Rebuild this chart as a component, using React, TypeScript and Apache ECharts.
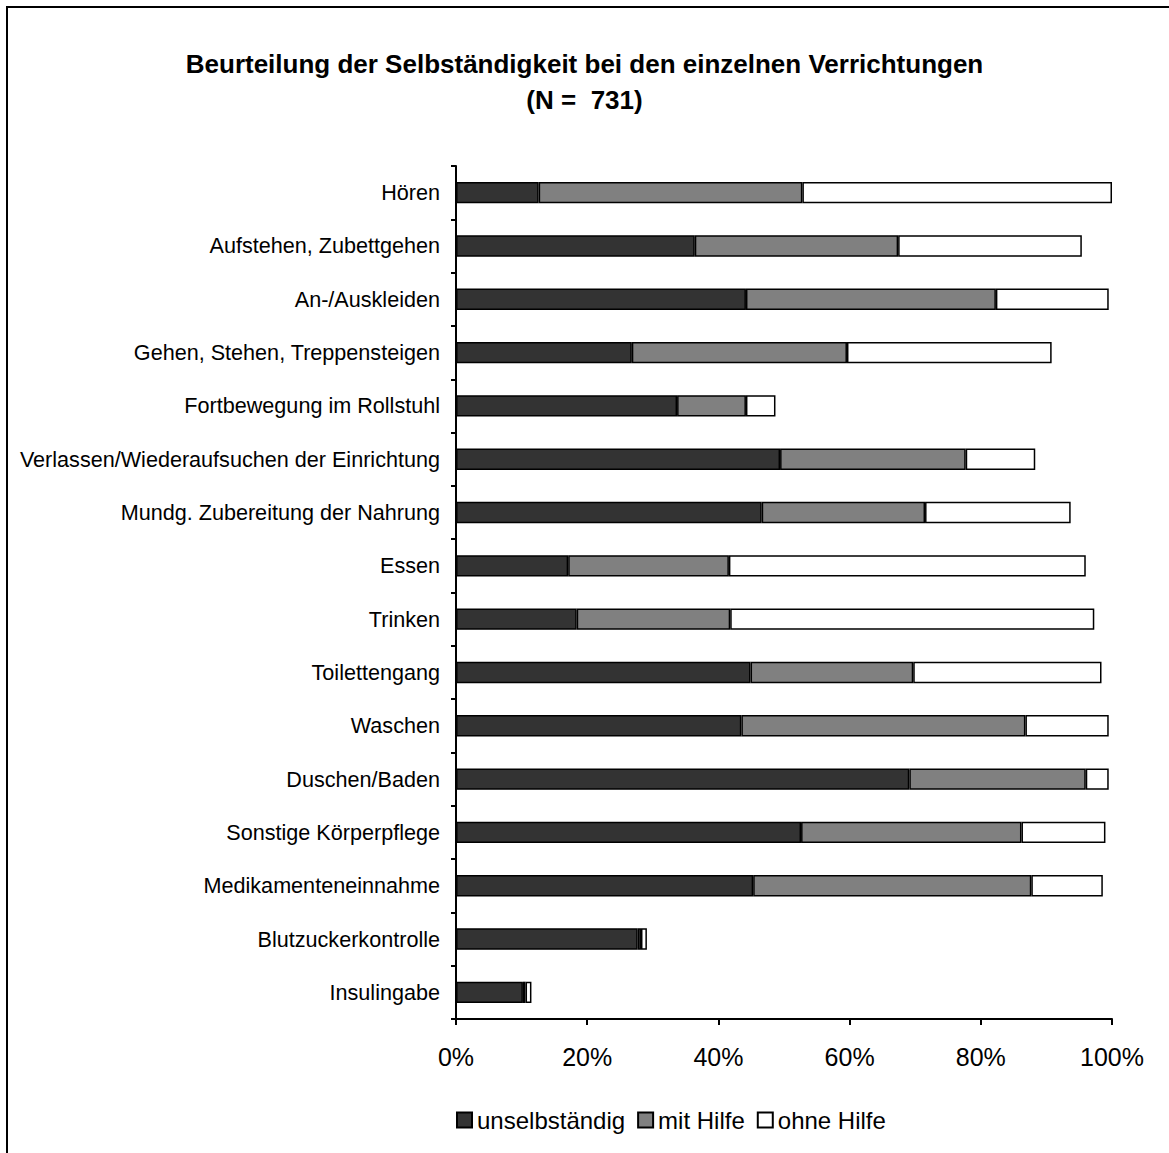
import React, { useEffect, useRef } from "react";
import * as echarts from "echarts";

const categories = [
  "Hören",
  "Aufstehen, Zubettgehen",
  "An-/Auskleiden",
  "Gehen, Stehen, Treppensteigen",
  "Fortbewegung im Rollstuhl",
  "Verlassen/Wiederaufsuchen der Einrichtung",
  "Mundg. Zubereitung der Nahrung",
  "Essen",
  "Trinken",
  "Toilettengang",
  "Waschen",
  "Duschen/Baden",
  "Sonstige Körperpflege",
  "Medikamenteneinnahme",
  "Blutzuckerkontrolle",
  "Insulingabe",
];

const unselbstaendig = [12.6, 36.4, 44.2, 26.8, 33.7, 49.4, 46.6, 17.1, 18.4, 44.9, 43.5, 69.1, 52.6, 45.3, 27.7, 10.2];
const mitHilfe = [40.2, 31.0, 38.1, 32.8, 10.5, 28.3, 24.9, 24.5, 23.4, 24.8, 43.3, 26.9, 33.6, 42.4, 0.5, 0.4];
const ohneHilfe = [47.2, 28.0, 17.2, 31.2, 4.5, 10.6, 22.2, 54.4, 55.5, 28.7, 12.7, 3.5, 12.8, 10.9, 0.9, 0.9];

const seriesNames = ["unselbständig", "mit Hilfe", "ohne Hilfe"];
const xTicks = [0, 20, 40, 60, 80, 100];

const FONT = "'Liberation Sans', Arial, sans-serif";

export default function App() {
  const ref = useRef<HTMLDivElement>(null);
  useEffect(() => {
    if (!ref.current) return;
    document.body.style.margin = "0";
    const chart = echarts.init(ref.current, undefined, { renderer: "svg" });
    const colors = ["#333333", "#808080", "#ffffff"];
    const data = [unselbstaendig, mitHilfe, ohneHilfe];
    chart.setOption({
      animation: false,
      backgroundColor: "#ffffff",
      textStyle: { fontFamily: FONT },
      title: {
        text: "Beurteilung der Selbständigkeit bei den einzelnen Verrichtungen\n(N =  731)",
        left: "center",
        top: 41,
        textStyle: {
          fontFamily: FONT,
          fontSize: 26,
          fontWeight: "bold",
          color: "#000",
          lineHeight: 36,
        },
      },
      legend: {
        data: seriesNames,
        left: 451,
        top: 1103,
        itemWidth: 15,
        itemHeight: 15,
        itemGap: 12,
        icon: "rect",
        textStyle: { fontFamily: FONT, fontSize: 24, color: "#000" },
      },
      grid: { left: 456, right: 57, top: 166, bottom: 134, containLabel: false },
      xAxis: {
        type: "value",
        min: xTicks[0],
        max: xTicks[xTicks.length - 1],
        interval: 20,
        axisLine: { show: true, lineStyle: { color: "#000", width: 2 } },
        axisTick: { show: true, length: 6, lineStyle: { color: "#000", width: 2 } },
        splitLine: { show: false },
        axisLabel: {
          formatter: (v: number) => v + "%",
          fontFamily: FONT,
          fontSize: 25,
          color: "#000",
          margin: 25,
        },
      },
      yAxis: {
        type: "category",
        inverse: true,
        data: categories,
        axisLine: { show: true, lineStyle: { color: "#000", width: 2 } },
        axisTick: { show: true, length: 5, lineStyle: { color: "#000", width: 2 } },
        axisLabel: { fontFamily: FONT, fontSize: 21.6, color: "#000", margin: 16 },
      },
      series: seriesNames.map((name, i) => ({
        name,
        type: "bar",
        stack: "total",
        barCategoryGap: "60%",
        data: data[i],
        itemStyle: { color: colors[i], borderColor: "#000", borderWidth: 1.5 },
      })),
      graphic: [
        {
          type: "line",
          z: 100,
          silent: true,
          shape: { x1: 7, y1: 7, x2: 1169, y2: 7 },
          style: { stroke: "#000", lineWidth: 2 },
        },
        {
          type: "line",
          z: 100,
          silent: true,
          shape: { x1: 7, y1: 6, x2: 7, y2: 1153 },
          style: { stroke: "#000", lineWidth: 2 },
        },
      ],
    });
    return () => chart.dispose();
  }, []);
  return <div ref={ref} style={{ width: 1169, height: 1153 }} />;
}
